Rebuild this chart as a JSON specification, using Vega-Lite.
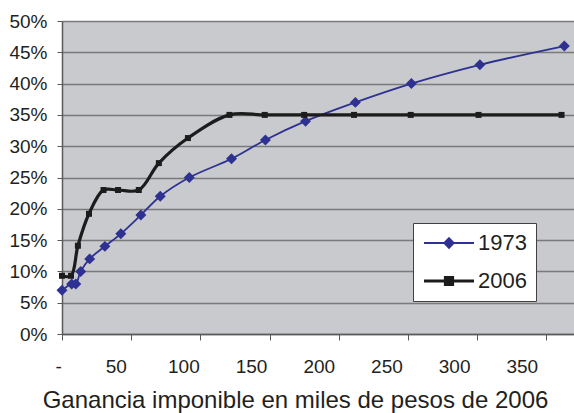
{
  "$schema": "https://vega.github.io/schema/vega-lite/v6.json",
  "width": 512,
  "height": 313,
  "autosize": "none",
  "padding": {"left": 62, "top": 21, "right": 0, "bottom": 79},
  "background": "white",
  "config": {
    "view": {"fill": "#C9CACE", "stroke": null},
    "font": "Liberation Sans"
  },
  "data": {
    "values": [
      {"serie": "1973", "x": 0, "y": 7},
      {"serie": "1973", "x": 7, "y": 8},
      {"serie": "1973", "x": 10, "y": 8},
      {"serie": "1973", "x": 13.5, "y": 10},
      {"serie": "1973", "x": 20, "y": 12},
      {"serie": "1973", "x": 31, "y": 14},
      {"serie": "1973", "x": 42.5, "y": 16},
      {"serie": "1973", "x": 57, "y": 19},
      {"serie": "1973", "x": 71, "y": 22},
      {"serie": "1973", "x": 92, "y": 25},
      {"serie": "1973", "x": 122.5, "y": 28},
      {"serie": "1973", "x": 147, "y": 31},
      {"serie": "1973", "x": 176, "y": 34},
      {"serie": "1973", "x": 212, "y": 37},
      {"serie": "1973", "x": 252.5, "y": 40},
      {"serie": "1973", "x": 302, "y": 43},
      {"serie": "1973", "x": 363, "y": 46},
      {"serie": "2006", "x": 0, "y": 9.3},
      {"serie": "2006", "x": 6.5, "y": 9.3},
      {"serie": "2006", "x": 11.5, "y": 14.1},
      {"serie": "2006", "x": 19.5, "y": 19.2},
      {"serie": "2006", "x": 30, "y": 23},
      {"serie": "2006", "x": 40.5, "y": 23},
      {"serie": "2006", "x": 55.5, "y": 23},
      {"serie": "2006", "x": 70, "y": 27.3},
      {"serie": "2006", "x": 91, "y": 31.3},
      {"serie": "2006", "x": 121, "y": 35},
      {"serie": "2006", "x": 146.5, "y": 35},
      {"serie": "2006", "x": 175, "y": 35},
      {"serie": "2006", "x": 211, "y": 35},
      {"serie": "2006", "x": 252, "y": 35},
      {"serie": "2006", "x": 301, "y": 35},
      {"serie": "2006", "x": 361, "y": 35}
    ]
  },
  "encoding": {
    "x": {
      "field": "x",
      "type": "quantitative",
      "scale": {"domain": [0, 370], "nice": false, "zero": true},
      "axis": {
        "values": [0, 50, 100, 150, 200, 250, 300, 350],
        "labelExpr": "datum.value == 0 ? '-' : datum.value",
        "grid": false,
        "domainColor": "#5A5A5A",
        "domainWidth": 1.5,
        "tickColor": "#5A5A5A",
        "tickSize": 6,
        "labelFontSize": 19,
        "labelColor": "#231F20",
        "labelPadding": 17,
        "labelOffset": {"expr": "datum.value == 0 ? -7 : -14 - datum.value * 0.03"},
        "title": "Ganancia imponible en miles de pesos de 2006",
        "titleFontSize": 24,
        "titleFontWeight": "normal",
        "titleColor": "#231F20",
        "titlePadding": 12,
        "titleX": 233
      }
    },
    "y": {
      "field": "y",
      "type": "quantitative",
      "scale": {"domain": [0, 50], "nice": false},
      "axis": {
        "values": [0, 5, 10, 15, 20, 25, 30, 35, 40, 45, 50],
        "labelExpr": "datum.value + '%'",
        "title": null,
        "grid": true,
        "gridColor": "#7A7A7A",
        "gridWidth": 1.5,
        "domainColor": "#5A5A5A",
        "domainWidth": 1.5,
        "tickColor": "#5A5A5A",
        "tickSize": 5,
        "labelFontSize": 19,
        "labelColor": "#231F20",
        "labelPadding": 10
      }
    }
  },
  "layer": [
    {
      "mark": {"type": "line", "interpolate": "catmull-rom"},
      "encoding": {
        "color": {
          "field": "serie",
          "type": "nominal",
          "scale": {"domain": ["1973", "2006"], "range": ["#2E3192", "#1C1C1C"]},
          "legend": {
            "orient": "none",
            "legendX": 351,
            "legendY": 202,
            "title": null,
            "fillColor": "white",
            "strokeColor": "#404040",
            "padding": 9,
            "labelFontSize": 22,
            "labelColor": "#231F20",
            "labelFont": "Liberation Sans",
            "labelOffset": 32,
            "rowPadding": 15,
            "symbolSize": 400,
            "symbolOpacity": 1,
            "encode": {
              "symbols": {
                "update": {
                  "shape": {"signal": "datum.value == '1973' ? 'M-1,0L4,0M1.5,-0.5L1.975,0L1.5,0.5L1.025,0Z' : 'M-1,0L4,0M1.15,-0.35L1.85,-0.35L1.85,0.35L1.15,0.35Z'"},
                  "strokeWidth": {"signal": "datum.value == '1973' ? 1.5 : 3.5"},
                  "fill": {"signal": "scale('color', datum.value)"},
                  "stroke": {"signal": "scale('color', datum.value)"},
                  "opacity": {"value": 1}
                }
              }
            }
          }
        },
        "strokeWidth": {
          "field": "serie",
          "type": "ordinal",
          "scale": {"domain": ["1973", "2006"], "range": [1.8, 3.2]},
          "legend": null
        }
      }
    },
    {
      "transform": [{"filter": "datum.serie == '1973'"}],
      "mark": {"type": "point", "filled": true, "opacity": 1, "shape": "diamond", "size": 120, "color": "#2E3192"}
    },
    {
      "transform": [{"filter": "datum.serie == '2006'"}],
      "mark": {"type": "point", "filled": true, "opacity": 1, "shape": "square", "size": 36, "color": "#1C1C1C"}
    }
  ]
}
